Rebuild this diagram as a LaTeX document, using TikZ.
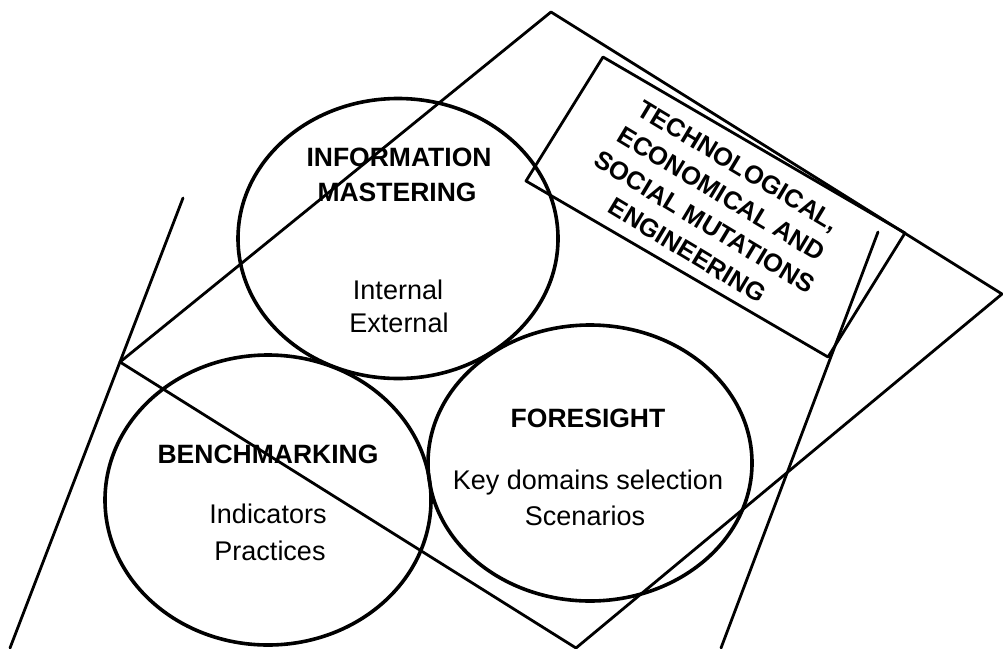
\documentclass[tikz,border=0pt]{standalone}
\usepackage{fontspec}
\setmainfont{Liberation Sans}
\usetikzlibrary{shapes.geometric}
\begin{document}
\begin{tikzpicture}[x=1pt,y=-1pt,
  edge/.style={line width=2.8pt, line cap=round, line join=round},
  ring/.style={draw, ellipse, line width=3.6pt, inner sep=0pt},
  title/.style={font=\fontsize{26.5}{30}\selectfont\bfseries, anchor=base, inner sep=0pt},
  item/.style={font=\fontsize{27}{30}\selectfont, anchor=base, inner sep=0pt},
  boxtext/.style={font=\fontsize{25.5}{33}\selectfont\bfseries, align=center, inner sep=0pt}]
\useasboundingbox (0,0) rectangle (1003,648);
\fill[white] (0,0) rectangle (1003,648);

% outer quadrilateral
\coordinate (L) at (120,362);
\coordinate (A) at (551,12);
\coordinate (R) at (1002,294);
\coordinate (B) at (576,648);
\draw[edge] (L) -- (A) -- (R) -- (B) -- cycle;

% long left line
\coordinate (LT) at (183,198);
\coordinate (LB) at (10,648);
\draw[edge] (LT) -- (LB);

% steep right line
\coordinate (S1) at (878,232);
\coordinate (S2) at (721,648);
\draw[edge] (S1) -- (S2);

% inner text box
\coordinate (TL) at (603,57);
\coordinate (TR) at (905,233);
\coordinate (BR) at (828,357);
\coordinate (BL) at (526,181);
\draw[edge] (TL) -- (TR) -- (BR) -- (BL) -- cycle;

\node[boxtext, rotate=-31] (tech) at (713,208)
  {TECHNOLOGICAL,\\ECONOMICAL AND\\SOCIAL MUTATIONS\\ENGINEERING};

% circles
\node[ring, minimum width=320pt, minimum height=280pt] (info) at (398,238.5) {};
\node[ring, minimum width=326pt, minimum height=290pt] (bench) at (268,500) {};
\node[ring, minimum width=324pt, minimum height=276pt] (fore) at (590,463) {};

% texts
\node[title] (t1) at (399,166) {INFORMATION};
\node[title] (t2) at (397,201) {MASTERING};
\node[item] (i1) at (398,299) {Internal};
\node[item] (i2) at (399,332) {External};

\node[title] (t3) at (268,463) {BENCHMARKING};
\node[item] (i3) at (268,523) {Indicators};
\node[item] (i4) at (270,560) {Practices};

\node[title] (t4) at (588,427) {FORESIGHT};
\node[item] (i5) at (588,489) {Key domains selection};
\node[item] (i6) at (585,525) {Scenarios};
\end{tikzpicture}
\end{document}
